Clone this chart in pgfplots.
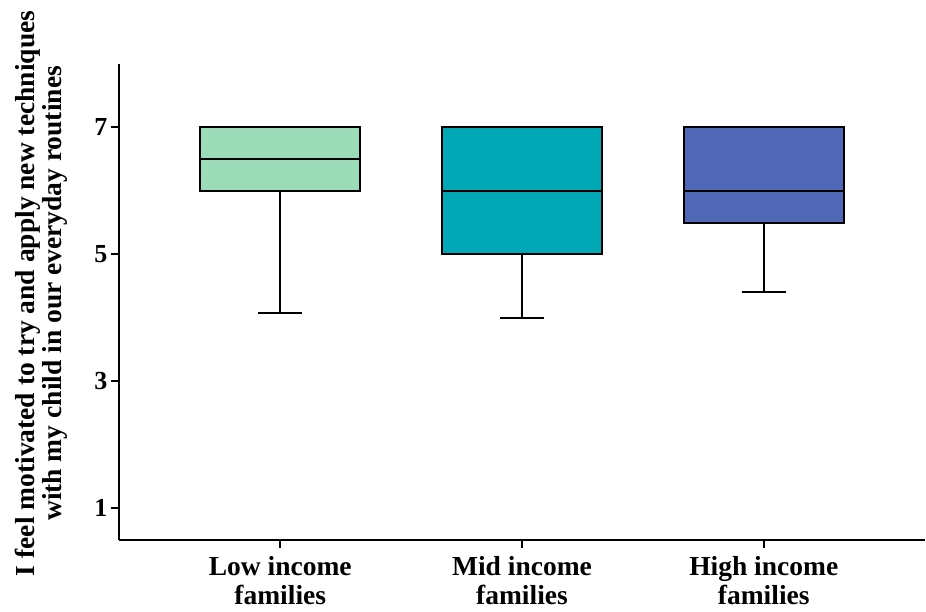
\documentclass[border=0pt]{standalone}
\usepackage{pgfplots}
\pgfplotsset{compat=1.18}
\usepackage{fontspec}
\setmainfont{Liberation Serif}
\definecolor{lowc}{RGB}{155,219,184}
\definecolor{midc}{RGB}{0,168,181}
\definecolor{highc}{RGB}{81,104,182}
\pgfplotsset{bx/.style={draw=black, line width=2pt, mark=none, solid, line join=miter}}
\begin{document}
\bfseries
\begin{tikzpicture}
\begin{axis}[
  scale only axis, width=806pt, height=476pt,
  xmin=0.333, xmax=3.667, ymin=0.5, ymax=8,
  axis x line*=bottom, axis y line*=left,
  axis line style={line width=2pt},
  xtick={1,2,3},
  xticklabels={{Low income\\families},{Mid income\\families},{High income\\families}},
  xticklabel style={align=center, font=\fontsize{27.5}{29}\selectfont\bfseries, yshift=-5pt},
  yticklabel style={font=\fontsize{26}{28}\selectfont\bfseries},
  /pgf/number format/assume math mode=true,
  ytick={1,3,5,7},
  tick style={line width=2pt, black},
  tick align=outside, major tick length=8pt,
  ylabel={I feel motivated to try and apply new techniques\\with my child in our everyday routines},
  ylabel style={align=center, font=\fontsize{27.5}{27}\selectfont\bfseries, at={(ticklabel cs:0.518)}},
  ylabel shift=20pt,
]
% Low income: whisker 4.08, Q1 6, median 6.5, Q3 7
\addplot[bx, fill=lowc] coordinates {(0.67,6) (1.33,6) (1.33,7) (0.67,7)} -- cycle;
\addplot[bx] coordinates {(0.67,6.5) (1.33,6.5)};
\addplot[bx] coordinates {(1,6) (1,4.08)};
\addplot[bx] coordinates {(0.91,4.08) (1.09,4.08)};
% Mid income: whisker 4.0, Q1 5, median 6, Q3 7
\addplot[bx, fill=midc] coordinates {(1.67,5) (2.33,5) (2.33,7) (1.67,7)} -- cycle;
\addplot[bx] coordinates {(1.67,6) (2.33,6)};
\addplot[bx] coordinates {(2,5) (2,4.0)};
\addplot[bx] coordinates {(1.91,4.0) (2.09,4.0)};
% High income: whisker 4.4, Q1 5.5, median 6, Q3 7
\addplot[bx, fill=highc] coordinates {(2.67,5.5) (3.33,5.5) (3.33,7) (2.67,7)} -- cycle;
\addplot[bx] coordinates {(2.67,6) (3.33,6)};
\addplot[bx] coordinates {(3,5.5) (3,4.4)};
\addplot[bx] coordinates {(2.91,4.4) (3.09,4.4)};
\end{axis}
\pgfresetboundingbox
\path[use as bounding box] (current axis.south west) ++(-119pt,-72pt) rectangle ++(926pt,612pt);
\end{tikzpicture}
\end{document}
